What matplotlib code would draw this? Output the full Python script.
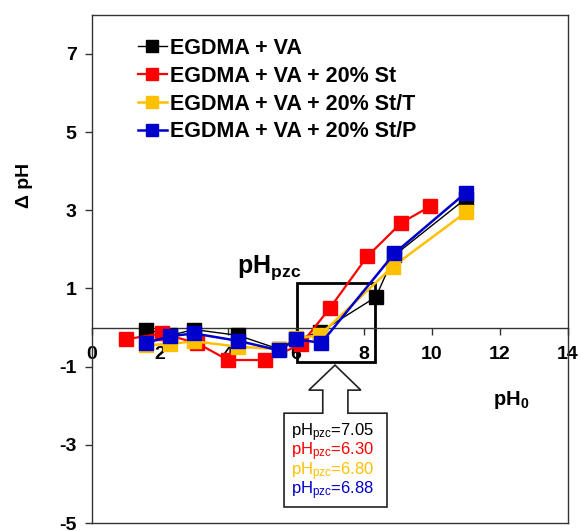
import matplotlib

matplotlib.use("Agg")
import matplotlib.pyplot as plt  # noqa: E402
from matplotlib.patches import Polygon, Rectangle  # noqa: E402

plt.rcParams["font.family"] = ["Liberation Sans", "DejaVu Sans"]
plt.rcParams["mathtext.fontset"] = "custom"
plt.rcParams["mathtext.rm"] = "Liberation Sans"
plt.rcParams["mathtext.it"] = "Liberation Sans:italic"
plt.rcParams["mathtext.bf"] = "Liberation Sans:bold"
plt.rcParams["axes.unicode_minus"] = False

# pH0 vs delta pH
labels = [
    "EGDMA + VA",
    "EGDMA + VA + 20% St",
    "EGDMA + VA + 20% St/T",
    "EGDMA + VA + 20% St/P",
]
colors = ["#000000", "#FF0000", "#FFC000", "#0000CC"]

ph0_black = [1.6, 2.3, 3.0, 4.3, 5.5, 6.0, 6.7, 8.35, 8.9, 11.0]
dph_black = [-0.05, -0.2, -0.05, -0.2, -0.55, -0.3, -0.12, 0.78, 1.85, 3.3]

ph0_red = [1.0, 2.05, 3.1, 4.0, 5.1, 6.15, 7.0, 8.1, 9.1, 9.95]
dph_red = [-0.3, -0.15, -0.4, -0.83, -0.83, -0.43, 0.5, 1.82, 2.68, 3.1]

ph0_yellow = [1.6, 2.3, 3.0, 4.3, 5.5, 6.0, 6.7, 8.85, 11.0]
dph_yellow = [-0.45, -0.42, -0.35, -0.49, -0.55, -0.27, -0.2, 1.56, 2.95]

ph0_blue = [1.6, 2.3, 3.0, 4.3, 5.5, 6.0, 6.75, 8.9, 11.0]
dph_blue = [-0.39, -0.22, -0.15, -0.34, -0.58, -0.3, -0.39, 1.9, 3.45]

pzc_values = ["7.05", "6.30", "6.80", "6.88"]

xticks = [0, 2, 4, 6, 8, 10, 12, 14]
yticks = [-5, -3, -1, 1, 3, 5, 7]

fig = plt.figure(figsize=(5.8, 5.31), dpi=100)
ax = fig.add_axes([0.1586, 0.015, 0.8204, 0.957])

series = [
    (ph0_black, dph_black, 1.0),
    (ph0_red, dph_red, 1.6),
    (ph0_yellow, dph_yellow, 1.8),
    (ph0_blue, dph_blue, 1.8),
]
for (xs, ys, lw), lab, col in zip(series, labels, colors):
    ax.plot(xs, ys, color=col, lw=lw, marker="s", ms=10, mec=col, mfc=col,
            label=lab, zorder=3)

ax.set_xlim(0, 14)
ax.set_ylim(-5, 8)
ax.set_xticks(xticks)
ax.set_yticks(yticks)

frame_col = "#333333"
for s in ax.spines.values():
    s.set_color(frame_col)
    s.set_linewidth(1.0)
ax.spines["bottom"].set_position(("data", 0))
ax.plot([0, 1], [0, 0], transform=ax.transAxes, color=frame_col, lw=1.0,
        clip_on=False, zorder=2)

ax.tick_params(axis="both", direction="out", length=5, width=1, color=frame_col,
               labelsize=14)
ax.tick_params(axis="x", pad=8)
ax.tick_params(axis="y", pad=6)
for t in ax.get_xticklabels() + ax.get_yticklabels():
    t.set_fontweight("bold")

ax.set_ylabel("Δ pH", fontsize=14, fontweight="bold")
ax.yaxis.set_label_coords(-0.125, 0.665)
ax.text(11.8, -1.85, r"$\mathbf{pH_0}$", fontsize=14.5, ha="left", va="center")

# pHpzc box and callout
ax.add_patch(Rectangle((6.03, -0.88), 2.29, 2.02, fill=False, ec="black",
                       lw=2.0, zorder=2))
ax.text(4.26, 1.39, r"$\mathbf{pH_{pzc}}$", fontsize=18, ha="left",
        va="baseline")
callout = [
    (7.15, -0.96), (7.91, -1.60), (7.53, -1.60), (7.53, -2.19),
    (8.68, -2.19), (8.68, -4.59), (5.65, -4.59), (5.65, -2.19),
    (6.79, -2.19), (6.79, -1.60), (6.38, -1.60),
]
ax.add_patch(Polygon(callout, closed=True, fill=True, fc="white", ec="#222222",
                     lw=1.2, zorder=2))
for i, (val, col) in enumerate(zip(pzc_values, colors)):
    ax.text(5.85, -2.68 - i * 0.5, r"pH$_{\mathrm{pzc}}$=" + val, color=col,
            fontsize=12, ha="left", va="center", zorder=4)

leg = ax.legend(loc="upper left", bbox_to_anchor=(0.096, 0.955), frameon=False,
                prop={"weight": "bold", "size": 15.5}, handlelength=1.35,
                handletextpad=0.15, labelspacing=0.32, borderpad=0,
                borderaxespad=0, markerscale=0.8)

fig.savefig("out.png", dpi=100)
